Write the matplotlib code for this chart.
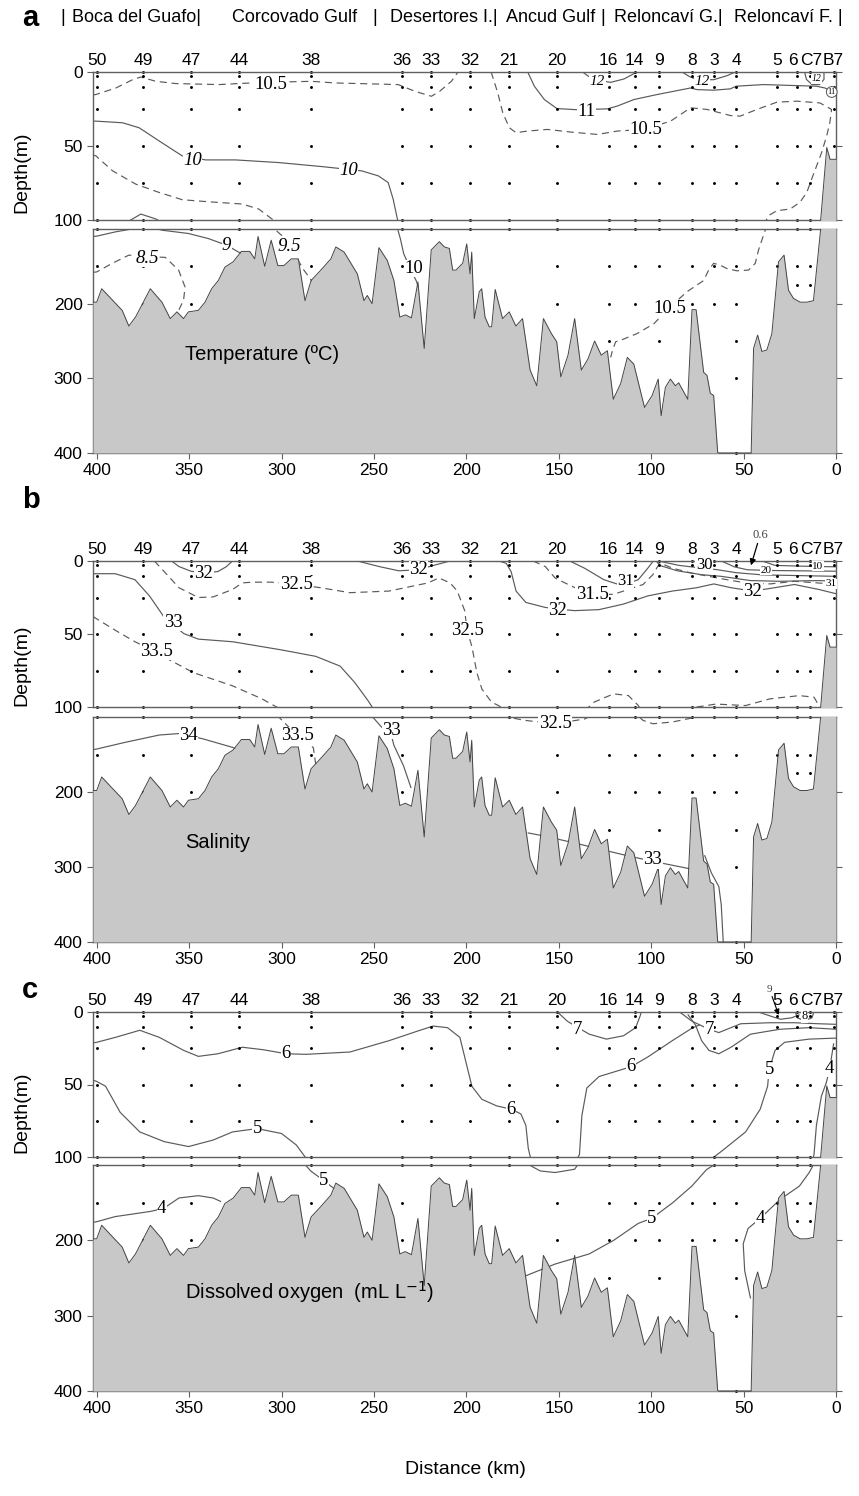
import matplotlib.pyplot as plt
from matplotlib.transforms import blended_transform_factory

plt.rcParams['font.family'] = ['Liberation Sans', 'DejaVu Sans']
SERIF = ['Liberation Serif', 'DejaVu Serif']

# stations along the section
station_names = ['50', '49', '47', '44', '38', '36', '33', '32', '21', '20',
                 '16', '14', '9', '8', '3', '4', '5', '6', 'C7', 'B7']
station_km = [400, 375, 349, 323, 284, 235, 219, 198, 177, 151,
              123, 109, 96, 78, 66, 54, 32, 21, 14, 1]
# where the names sit (the three last ones are crowded)
label_km = station_km[:17] + [23.5, 13.5, 1.5]
upper_samples = [0, 3, 10, 25, 50, 75, 100]
station_top = [100] * 19 + [50]
station_deep = [[150], [150, 200], [150, 200], [], [150], [150, 200], [], [], [], [150, 200],
                [150, 200, 250], [150, 200], [150, 200, 250], [150, 200], [150, 200],
                [150, 200, 250, 300, 400], [150], [150, 175], [150, 175], []]

# bottom profile (km, depth m)
bathy = [(402, 198), (400, 198), (397.3, 180), (386.2, 209), (382.6, 230), (379, 218), (371, 180),
         (364.7, 198), (360.2, 220), (356.6, 211), (353, 220), (350.4, 211), (345, 209), (341.4, 198),
         (337.8, 180), (334.2, 169), (330.6, 151), (326.2, 144), (321.7, 130), (317.2, 130),
         (314.5, 140), (312.7, 110), (309.1, 150), (305.6, 115), (302, 149), (298.7, 149),
         (294.7, 140), (290.9, 140), (287.3, 196), (284, 169), (278.7, 155), (273.3, 140),
         (270.6, 124), (266.1, 131), (259, 160), (255.4, 196), (253.6, 189), (251, 200),
         (247.3, 125), (242.8, 142), (239.2, 169), (236, 218), (233, 215), (229.7, 219),
         (226.2, 171), (222.8, 260), (219, 128), (214.6, 117), (211.9, 124), (209.2, 126),
         (207.4, 155), (205.6, 155), (202, 146), (199.8, 120), (198, 160), (197.1, 131),
         (195.7, 220), (193, 184), (191.7, 180), (189.9, 218), (187.6, 231), (186.3, 231),
         (184.4, 181), (180.4, 220), (176.8, 211), (173.2, 230), (169.6, 220), (165.5, 289),
         (161.9, 310), (158.3, 220), (154, 240), (151.1, 251), (148.9, 298), (145, 269),
         (141.4, 220), (137.8, 289), (134.2, 274), (130.6, 250), (127, 269), (123.7, 263),
         (120.5, 328), (116.5, 307), (112.9, 272), (109.4, 281), (103.6, 339), (99.5, 323),
         (96.2, 301), (94.6, 350), (92.3, 312), (89.6, 301), (86.9, 310), (85.1, 306),
         (80.2, 328), (77.9, 208), (75.7, 208), (71.6, 292), (69.8, 296), (68, 320), (66.2, 323),
         (64, 400), (45.9, 400), (44.6, 260), (42.4, 242), (40.1, 264), (37.4, 262), (34.7, 240),
         (31.1, 144), (28.1, 135), (25.7, 182), (23, 193), (19.4, 198), (15.8, 198), (12.2, 196),
         (8.3, 100), (5, 51), (3.2, 59), (0.5, 59), (0, 59)]

# ---- temperature isolines ----
t105_top = [(402, 15.5), (400.4, 15.2), (389.6, 10.8), (380.6, 5.2), (376.1, 3.4), (368, 6.3),
            (357.3, 7.8), (333.9, 8.5), (310, 7), (283.6, 6.3), (271, 7.4), (236.9, 8.5),
            (227.9, 13), (218.9, 16.4), (214.4, 13), (208.1, 6.3), (204.5, 0)]
t105 = [(186.6, 0), (183, 14.1), (180.3, 27.6), (176.7, 37.7), (173.1, 41), (166.8, 39.9),
        (156, 38.8), (143.4, 40.6), (129.1, 42.2), (118.3, 39.9), (104, 38.8), (89.5, 33.2),
        (78.7, 24.2), (69.8, 25.3), (57.2, 29.4), (51.8, 29.8), (42.8, 25.3), (32, 20.4),
        (21.2, 19.7), (8.7, 20.9), (2.4, 25.3), (3.3, 34), (5, 43), (7.8, 54.5), (10.5, 63.5),
        (13.2, 72.4), (15.8, 81.4), (19.5, 88), (24.8, 92.6), (32, 93.7), (36.5, 97),
        (38.3, 101.6), (41.9, 128), (43.7, 146), (47.3, 155), (53.6, 156), (59, 153),
        (62.6, 148.5), (66.2, 146), (68.9, 155), (71.6, 169), (80.6, 184), (89.6, 204),
        (98.6, 227), (107.6, 240), (116.5, 249), (119.2, 251), (121, 263), (121.9, 272)]
t11 = [(166.8, 0), (163.2, 9.6), (157.8, 18.6), (151, 24.7), (140, 25.5), (123.6, 24.9),
       (118.3, 23), (109.3, 18.6), (96.7, 15.2), (78.7, 10.8), (75.2, 11.9), (66.2, 12.3),
       (57.2, 11.4), (54, 9.6), (39.2, 8.5), (21.2, 9.2), (10.5, 9.6), (6, 10.8), (4, 12)]
t12_a = [(137.1, 0), (134.4, 2.5), (130.9, 5.2), (121.9, 7), (114.7, 4.7), (109.3, 1.1), (108.4, 0)]
t12_b = [(83.2, 0), (79.6, 2.9), (75.2, 5.2), (66.2, 5.2), (59, 2.5), (54.5, 0)]
t12_c = [(17, 0), (16, 5), (13, 8.5), (9, 8.5), (6.5, 5), (6.5, 0)]
t10 = [(402, 33.2), (400.4, 33.2), (386, 34.3), (377, 37.7), (366.2, 46.6), (353.7, 56.7),
       (341, 59.4), (324.9, 59.4), (301.5, 61.2), (278.2, 63.9), (256.6, 66.8), (247.6, 70.2),
       (242.3, 74.7), (239.6, 85.9), (237.2, 100), (235.7, 113), (233.9, 133), (230, 155),
       (227, 170), (226, 178)]
t95 = [(402, 56), (400.4, 56.7), (391.4, 66.8), (378.8, 75.8), (366.2, 81.4), (353.7, 86.3),
       (339.3, 87.7), (321.3, 89.2), (312.3, 92.6), (305.2, 99.3), (303.8, 100), (299.3, 110),
       (295.7, 124), (292, 137), (288.5, 153), (283.2, 171)]
t9 = [(402, 110), (400, 109.6), (389.8, 103.8), (382.6, 100.7), (376.1, 96), (368, 99.3),
      (364.7, 101.6), (350.4, 106), (339.6, 112.8), (329.7, 121.7), (323.5, 130.6), (320, 135)]
t85 = [(402, 158), (400, 157.5), (391.6, 146), (382.6, 135), (372, 137), (362.9, 138),
       (355.7, 155), (352.2, 177.6), (353, 195.5), (355.7, 209), (357, 215)]

temp_lines = [(t105_top, '--'), (t105, '--'), (t11, '-'), (t12_a, '-'), (t12_b, '-'),
              (t12_c, '-'), (t10, '-'), (t95, '--'), (t9, '-'), (t85, '--')]
temp_labels = [('10.5', 306, 8.5, 13.5, 'normal'), ('10', 348.3, 59.6, 13.5, 'italic'),
               ('10', 263.8, 66.8, 13.5, 'italic'), ('12', 129, 6.3, 11, 'italic'),
               ('12', 72.4, 6.3, 11, 'italic'), ('12', 10.5, 4.7, 7, 'italic'),
               ('11', 134.8, 26.5, 13.5, 'normal'), ('10.5', 103, 38.8, 13.5, 'normal'),
               ('9', 329.7, 121.7, 13.5, 'italic'), ('9.5', 295.7, 124, 13.5, 'italic'),
               ('8.5', 372.8, 139.6, 13.5, 'italic'), ('10', 228.5, 153, 13.5, 'normal'),
               ('10.5', 89.9, 207, 13.5, 'normal')]

# ---- salinity isolines ----
s33 = [(402, 8.7), (400, 8.7), (390, 8.7), (379.3, 12.8), (371.4, 24), (363.5, 38.5),
       (352.9, 49.7), (345, 53.5), (326.5, 55.3), (300, 60.9), (281.5, 65.3), (268.3, 72),
       (260.4, 83.2), (253, 96), (250, 102), (245.8, 113.6), (240.5, 125), (239.2, 137.7),
       (234, 165), (230, 194)]
s335 = [(402, 38), (400, 39.6), (390, 47.4), (379.3, 55.3), (370, 61), (360.8, 67.6),
        (347.6, 76.5), (326.5, 85.5), (310.6, 94.4), (302.7, 100), (301.3, 100.5), (296, 113.6),
        (290, 127), (282.8, 140.7), (281.5, 162.9)]
s34 = [(402, 143.5), (400, 142.7), (384.6, 133.8), (366.1, 124), (355, 122), (342.3, 129.3),
       (326.5, 140.5), (324, 143)]
s325 = [(368.8, 0), (363.5, 7.2), (355.5, 18.3), (345, 25), (337, 24.6), (326.5, 19.5),
        (321.2, 15), (315.9, 14.5), (305.3, 14.5), (292, 16), (278.9, 18.3), (263, 21.7),
        (241.9, 20.6), (220.7, 15), (214.9, 11.6), (208.8, 15), (204.9, 20.6), (200.9, 34),
        (199.6, 47.4), (197, 58.6), (194.3, 76.5), (191.6, 87.7), (186.4, 96.6), (181.1, 100),
        (175.8, 101), (168.3, 104.5), (152, 109), (136.1, 102.7), (130.8, 96.6), (120.3, 91),
        (112.3, 92.2), (107, 98.9), (104.4, 104.5), (99.1, 109), (88.6, 106.7), (75.3, 100),
        (65, 98), (48.9, 99), (35.7, 94.4), (19.8, 92.2), (11.9, 93.3), (9.3, 98.9)]
s32_a = [(359.5, 0), (355.5, 3.8), (349, 7), (342, 8.3), (334.4, 7.2), (330, 4), (326.5, 0)]
s32_b = [(259, 0), (247.2, 3.8), (236.6, 6.7), (226, 6), (218, 3.1), (208.8, 0)]
s32_c = [(182.4, 0), (178.4, 1.6), (175.8, 7.2), (173.1, 20.6), (167.8, 28.4), (157.3, 31.8),
         (150, 33), (141.4, 34), (128.2, 33.3), (115, 29.5), (101.8, 23.9), (88.6, 20.6),
         (75.3, 18.3), (66.1, 15.7), (56.8, 18.3), (45, 20.6), (35.7, 18.8), (22.5, 16.1),
         (9.3, 19.5), (0, 22.4)]
s315 = [(163.9, 0), (157.3, 3.8), (152, 11.6), (146.7, 15), (140, 19), (132, 23), (120.3, 22.8),
        (115, 20.6), (104.4, 16.1), (99.1, 9.4), (96.5, 3.8), (95.2, 1.6), (93, 2.5), (88.6, 4.9),
        (78, 8.3), (62.1, 12.1), (48.9, 15), (35.7, 15.7), (22.5, 13.9), (10, 15), (0, 16)]
s31 = [(144, 0), (136.1, 4.9), (125.6, 12.8), (117.6, 16.1), (112, 15), (107, 12.8),
       (101.8, 4.9), (99.1, 0.4)]
s31_b = [(97, 0.5), (95.2, 3.1), (85.9, 6.7), (72.7, 9.4), (62.1, 10.5), (46.3, 13.4),
         (30.4, 13.9), (9.3, 13.4), (0, 13.9)]
s30 = [(96, 0), (85, 3), (75, 4.5), (64, 6), (54, 8), (40, 9.5), (20, 10), (0, 10.5)]
s20 = [(62, 0), (55, 4), (48, 6), (35, 6.5), (0, 7)]
s10 = [(40, 0), (33, 3), (20, 3.5), (0, 4)]
s33_deep = [(166.5, 254.6), (157.3, 259), (141.4, 268), (115, 283.7), (100, 292), (80.6, 301.6),
            (78.5, 303)]
s33_east = [(71, 285), (67.4, 308), (63.4, 326), (62.1, 350), (61, 400)]

sal_lines = [(s33, '-'), (s335, '--'), (s34, '-'), (s325, '--'), (s32_a, '-'), (s32_b, '-'),
             (s32_c, '-'), (s315, '--'), (s31, '-'), (s31_b, '-'), (s30, '-'), (s20, '-'),
             (s10, '-'), (s33_deep, '-'), (s33_east, '-')]
sal_labels = [('32', 342, 8.3, 13.5, 'normal'), ('32', 226, 6, 13.5, 'normal'),
              ('32.5', 292, 16.1, 13.5, 'normal'), ('33', 358.7, 41.8, 13.5, 'normal'),
              ('33.5', 367.4, 62, 13.5, 'normal'), ('32.5', 199.6, 47.4, 13.5, 'normal'),
              ('32', 150.7, 34, 13.5, 'normal'), ('31.5', 132, 23, 13.5, 'normal'),
              ('31', 113.7, 13.9, 12, 'normal'), ('30', 71.4, 2.7, 12, 'normal'),
              ('20', 38, 6.5, 8, 'normal'), ('10', 10, 3.5, 8, 'normal'),
              ('31', 2.6, 15.5, 8, 'normal'), ('32', 45, 20.6, 13.5, 'normal'),
              ('34', 350.3, 124.8, 13.5, 'normal'), ('33.5', 291.3, 124.8, 13.5, 'normal'),
              ('33', 240.5, 118, 13.5, 'normal'), ('32.5', 152, 109, 13.5, 'normal'),
              ('33', 99.1, 290.4, 13.5, 'normal')]

# ---- dissolved oxygen isolines ----
o6 = [(402, 21.3), (400, 20.9), (389.9, 17.5), (376.7, 12.6), (366.1, 17.5), (352.9, 26.5),
      (345, 30.6), (334.4, 28.8), (321.2, 24.3), (310, 26), (297.4, 28.8), (286.8, 29.2),
      (263, 27.6), (241.9, 19.8), (226, 13), (218, 9.7), (210.2, 10.8), (203.5, 17.5),
      (199.6, 37.8), (197, 51.2), (191.6, 60.2), (183.7, 64.7), (175.8, 67), (170.5, 70.3),
      (167.8, 78.2), (166.5, 94), (165.2, 101), (160, 107.9), (152, 110), (141.4, 105.6),
      (140.1, 101), (138.8, 98.4), (137.5, 71.5), (134.8, 52.4), (128.2, 44.5), (111, 37.8),
      (101.8, 31), (88.6, 19.8), (78, 11.2), (74, 9)]
o6_b = [(80, 2), (76, 9), (72.7, 19.8), (68.7, 26.5), (63.4, 28.8), (56.8, 24.3), (46.3, 15.3),
        (30.4, 11.9), (14.5, 10.8), (0, 11.9)]
o5 = [(402, 47), (400, 47.9), (395.2, 51.2), (387.3, 69.2), (376.7, 82.7), (363.5, 89.4),
      (350.3, 92.8), (337, 88.3), (326.5, 82.7), (313.2, 80.4), (300, 83.8), (292, 91.7),
      (286.8, 100.7), (284.2, 107.9), (277, 121), (270.9, 132.6)]
o4 = [(402, 176), (400, 175.3), (390, 168.5), (371.4, 161.8), (364, 158), (355.5, 143.8),
      (345, 140.7), (337, 143.8), (333, 148.3)]
o7_a = [(150.7, 0), (145.4, 6.3), (140, 10.5), (133.5, 15.3), (124.2, 18.7), (115, 16.4),
        (108.4, 10.8), (105.7, 1.8), (105.5, 0)]
o7_b = [(84.6, 0), (78, 6.3), (68.7, 11.9), (63.4, 14.2), (56.8, 10.8), (51.5, 8.1),
        (35.7, 7.4), (22.5, 7.4), (9.3, 8.1), (0, 8.5)]
o5_east = [(0, 18), (14.5, 18.7), (27.8, 20.9), (33, 26.5), (36.2, 40), (37, 51.2), (41, 67),
           (48.9, 82.7), (62.1, 96.2), (66, 100), (70, 106), (78, 128), (88.6, 150.6),
           (99.7, 170.8), (107, 177.5), (120.3, 200), (133.5, 218), (152, 231.5), (167.8, 247)]
o4_east = [(1.3, 22), (3.4, 38.9), (5.3, 49), (7.9, 58), (10.6, 78.2), (11.9, 98.4),
           (14.5, 110), (19.8, 128), (30.4, 146), (41, 170.8), (47.6, 184.3), (50.2, 204.5),
           (49.4, 240.4), (46.3, 276.4)]
o8 = [(22, 0), (21, 4), (17, 6), (13, 4), (12, 0)]
o9 = [(42, 0), (35, 3), (30, 5), (24, 4), (20, 2)]

oxy_lines = [(o6, '-'), (o6_b, '-'), (o5, '-'), (o4, '-'), (o7_a, '-'), (o7_b, '-'),
             (o5_east, '-'), (o4_east, '-'), (o8, '-'), (o9, '-')]
oxy_labels = [('6', 297.4, 28.8, 13.5, 'normal'), ('6', 175.8, 67, 13.5, 'normal'),
              ('6', 111, 37.8, 13.5, 'normal'), ('5', 313.2, 80.4, 13.5, 'normal'),
              ('5', 277, 121, 13.5, 'normal'), ('4', 364.8, 157.3, 13.5, 'normal'),
              ('7', 140, 11.9, 13.5, 'normal'), ('7', 68.7, 11.9, 13.5, 'normal'),
              ('5', 36.2, 40, 13.5, 'normal'), ('4', 3.4, 38.9, 13.5, 'normal'),
              ('5', 99.7, 170.8, 13.5, 'normal'), ('4', 41, 170.8, 13.5, 'normal'),
              ('8', 17.2, 2.9, 9, 'normal')]

W, H = 859, 1496
fig = plt.figure(figsize=(W / 100, H / 100), dpi=100)


def add_ax(top, bottom, left=93, right=836):
    return fig.add_axes([left / W, 1 - bottom / H, (right - left) / W, (bottom - top) / H])


def draw_panel(top0, bot0, top1, bot1, lines, labels, name):
    ax_t = add_ax(top0, bot0)
    ax_b = add_ax(top1, bot1)
    bk = [p[0] for p in bathy]
    bz = [p[1] for p in bathy]
    for ax, lo, hi in ((ax_t, 0, 100), (ax_b, 100, 400)):
        ax.fill_between(bk, bz, 400, color='#c8c8c8', lw=0, zorder=3)
        ax.plot(bk, bz, color='#444444', lw=0.7, zorder=3)
        for pts, ls in lines:
            ax.plot([p[0] for p in pts], [p[1] for p in pts], color='#5a5a5a', lw=0.85,
                    ls=(0, (6, 4)) if ls == '--' else '-', zorder=2)
        for km, tmax, deep in zip(station_km, station_top, station_deep):
            zs = [z for z in upper_samples if z <= tmax] + deep
            zs = [z for z in zs if lo <= z <= hi]
            ax.plot([km] * len(zs), zs, 'o', color='k', ms=2.1, mew=0, zorder=2.5, clip_on=False)
        ax.set_xlim(402, 0)
        ax.set_ylim(hi, lo)
        for s in ax.spines.values():
            s.set_color('#606060')
            s.set_linewidth(1)
        ax.tick_params(labelsize=12.5, color='#606060', length=4, right=True)
    ax_t.set_xticks([])
    ax_t.set_yticks([0, 50, 100])
    ax_b.set_yticks([200, 300, 400])
    ax_b.set_xticks(range(0, 401, 50))
    for txt, km, z, size, style in labels:
        ax = ax_t if z <= 100 else ax_b
        ax.text(km, z, txt, fontsize=size, family=SERIF, style=style, ha='center', va='center',
                bbox=dict(fc='white', ec='none', pad=0.3), zorder=4)
    tr = blended_transform_factory(ax_t.transData, ax_t.transAxes)
    for nm, km in zip(station_names, label_km):
        ax_t.text(km, 1.03, nm, transform=tr, ha='center', va='bottom', fontsize=12.5)
    ax_b.text(352, 268, name, fontsize=14.5, ha='left', va='center', zorder=5)
    return ax_t, ax_b


ta, tb = draw_panel(72, 220, 229, 453, temp_lines, temp_labels, 'Temperature (ºC)')
ta.text(2.3, 13.5, '11', fontsize=6, family=SERIF, ha='center', va='center', zorder=4,
        bbox=dict(boxstyle='circle,pad=0.15', fc='white', ec='#555555', lw=0.7))
sa, sb = draw_panel(561, 707, 717, 942, sal_lines, sal_labels, 'Salinity')
sa.annotate('0.6', xy=(46, 3), xytext=(41, -16), fontsize=9, family=SERIF, color='#444444',
            ha='center', annotation_clip=False,
            arrowprops=dict(arrowstyle='-|>', color='k', lw=0.9, shrinkA=0, shrinkB=0))
oa, ob = draw_panel(1012, 1157, 1165, 1391, oxy_lines, oxy_labels,
                    'Dissolved oxygen  (mL L$^{-1}$)')
oa.annotate('9', xy=(31, 2), xytext=(36, -14), fontsize=8, family=SERIF, color='#444444',
            ha='center', annotation_clip=False,
            arrowprops=dict(arrowstyle='-|>', color='k', lw=0.8, shrinkA=0, shrinkB=0))

# panel letters and headings
for letter, y in (('a', 18), ('b', 500), ('c', 990)):
    fig.text(22 / W, 1 - y / H, letter, fontsize=21, fontweight='bold', va='center')
regions = [('|', 60), ('Boca del Guafo|', 72), ('Corcovado Gulf', 232), ('|', 372),
           ('Desertores I.|', 390), ('Ancud Gulf', 506), ('|', 600),
           ('Reloncaví G.|', 614), ('Reloncaví F. |', 734)]
for txt, x in regions:
    fig.text(x / W, 1 - 18 / H, txt, fontsize=13, va='center', ha='left')
for y in (172, 665, 1112):
    fig.text(22 / W, 1 - y / H, 'Depth(m)', fontsize=14, rotation=90, va='center', ha='center')
fig.text(465 / W, 1 - 1470 / H, 'Distance (km)', fontsize=14, ha='center', va='center')

fig.savefig('out.png', dpi=100)
